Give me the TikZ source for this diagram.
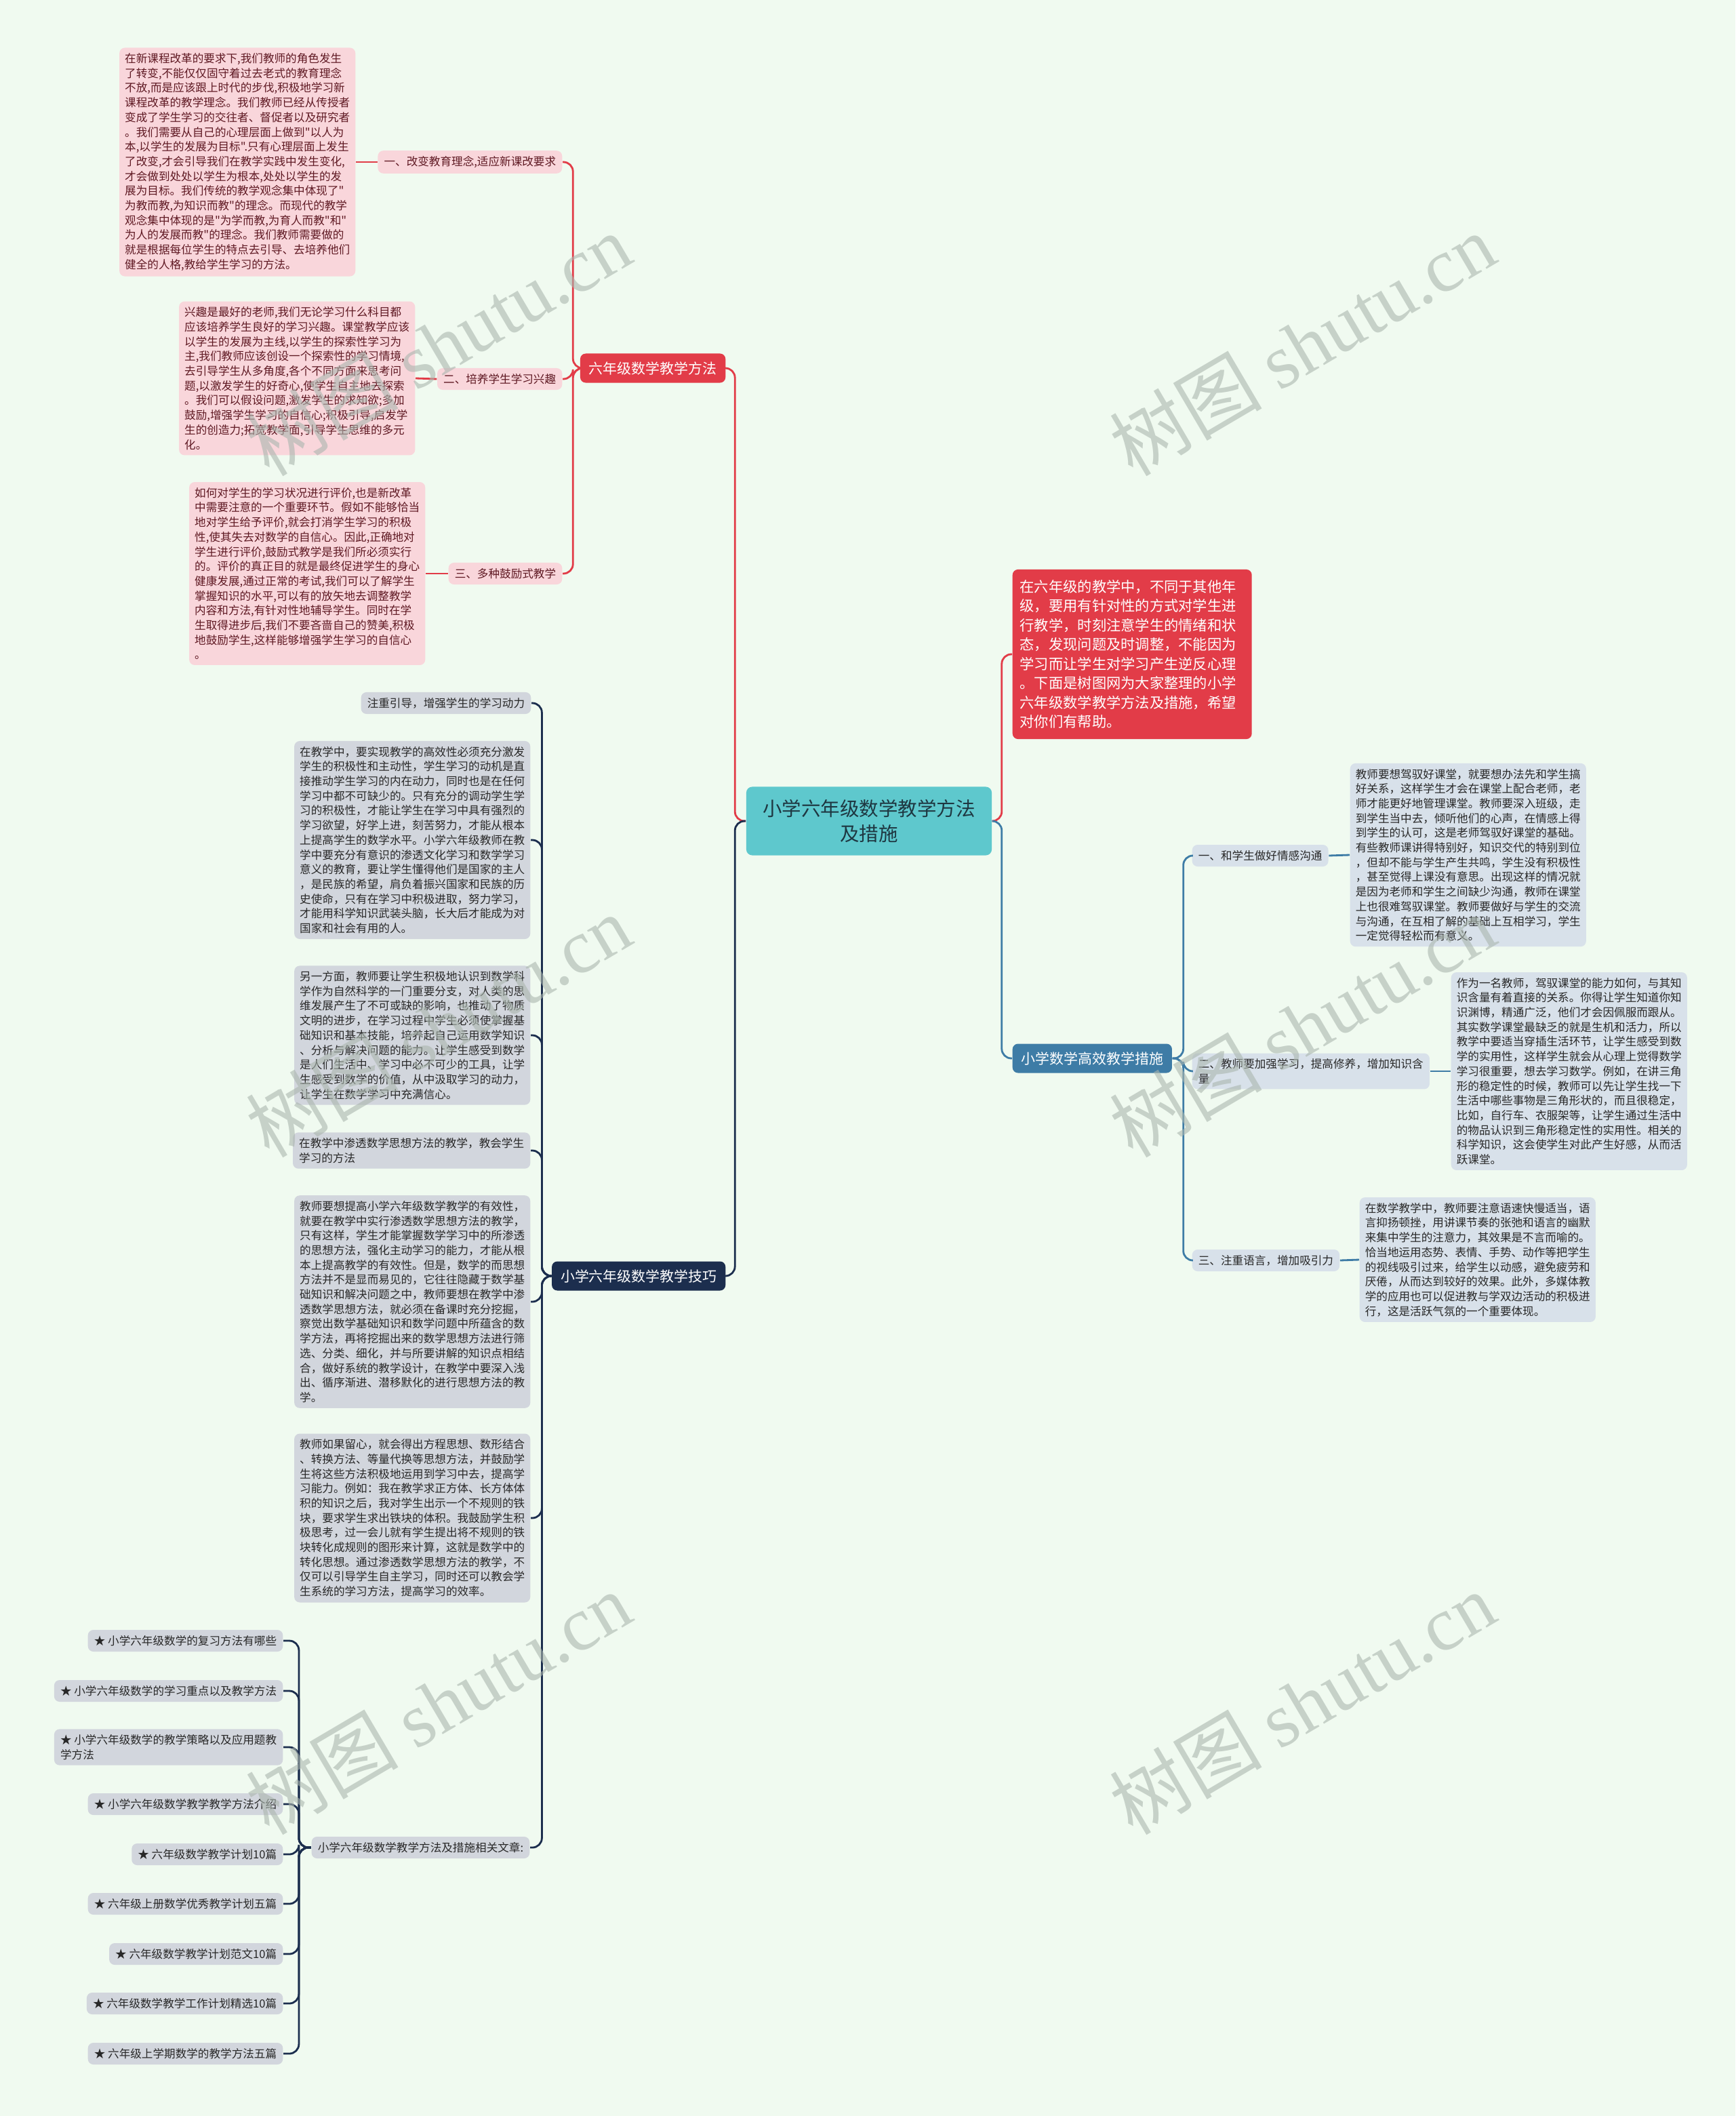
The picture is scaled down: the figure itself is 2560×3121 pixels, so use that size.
\documentclass[tikz,border=0pt]{standalone}
\usepackage{fontspec}
\setmainfont{Noto Sans CJK SC}[Ligatures=TeXOff]
\newfontfamily\wmlatin{Liberation Serif}
\usetikzlibrary{positioning}
\definecolor{bgmint}{RGB}{240,250,240}
\definecolor{mapred}{RGB}{226,60,72}
\definecolor{mappink}{RGB}{249,214,219}
\definecolor{pinktext}{RGB}{95,25,35}
\definecolor{mapteal}{RGB}{94,200,205}
\definecolor{roottext}{RGB}{30,55,65}
\definecolor{mapblue}{RGB}{62,124,166}
\definecolor{bluegrey}{RGB}{216,225,234}
\definecolor{mapnavy}{RGB}{28,46,78}
\definecolor{navygrey}{RGB}{210,214,221}
\definecolor{darktext}{RGB}{40,40,40}
\definecolor{wmgrey}{RGB}{170,182,174}
\newcommand{\txtsmall}{\fontsize{4.72}{6.17}\selectfont}
\newcommand{\txtmid}{\fontsize{5.95}{7.4}\selectfont}
\newcommand{\txtintro}{\fontsize{6.05}{8.1}\selectfont}
\newcommand{\txtbig}{\fontsize{8.1}{10.6}\selectfont}

\begin{document}
\begin{tikzpicture}[x=0.01cm, y=-0.01cm,
    block/.style={rectangle, rounded corners=2.3pt, align=left, font=\txtsmall,
      inner xsep=2.3pt, inner ysep=2.3pt},
    pinkblock/.style={block, fill=mappink, text=pinktext},
    blueblock/.style={block, fill=bluegrey, text=darktext},
    greyblock/.style={block, fill=navygrey, text=darktext},
    tag/.style={block, minimum height=0.32cm, inner xsep=2.6pt},
    pinktag/.style={tag, fill=mappink, text=pinktext},
    bluetag/.style={tag, fill=bluegrey, text=darktext},
    greytag/.style={tag, fill=navygrey, text=darktext},
    branch/.style={rectangle, rounded corners=2.3pt, font=\txtmid, text=white,
      inner xsep=3.7pt, minimum height=0.43cm},
    link/.style={line width=0.8pt, rounded corners=4pt},
    wmark/.style={text=wmgrey, opacity=0.6, rotate=30.5,
      font=\fontsize{32}{32}\selectfont}]
  \fill[bgmint] (0,0) rectangle (2560,3121);
  \useasboundingbox (0,0) rectangle (2560,3121);

  % centre and main branches
  \node[rectangle, rounded corners=2.5pt, fill=mapteal, text=roottext, font=\txtbig,
    align=center, minimum width=3.62cm, minimum height=1.01cm] (root) at (1282,1211)
    {小学六年级数学教学方法\\及措施};
  \node[block, fill=mapred, text=white, font=\txtintro, text width=3.31cm,
    inner xsep=3.1pt, inner ysep=4.4pt, anchor=west] (intro) at (1493,965)
    {在六年级的教学中，不同于其他年\\
     级，要用有针对性的方式对学生进\\
     行教学，时刻注意学生的情绪和状\\
     态，发现问题及时调整，不能因为\\
     学习而让学生对学习产生逆反心理\\
     。下面是树图网为大家整理的小学\\
     六年级数学教学方法及措施，希望\\
     对你们有帮助。};
  \node[branch, fill=mapred, anchor=east] (b1) at (1071,543) {六年级数学教学方法};
  \node[branch, fill=mapnavy, anchor=east] (b2) at (1071,1882) {小学六年级数学教学技巧};
  \node[branch, fill=mapblue, anchor=west] (b3) at (1493,1561) {小学数学高效教学措施};

  % 六年级数学教学方法
  \node[pinktag, anchor=east] (a1) at (830,239) {一、改变教育理念,适应新课改要求};
  \node[pinktag, anchor=east] (a2) at (830,559) {二、培养学生学习兴趣};
  \node[pinktag, anchor=east] (a3) at (830,846) {三、多种鼓励式教学};
  \node[pinkblock, anchor=east] (at1) at (525,239)
    {在新课程改革的要求下,我们教师的角色发生\\
     了转变,不能仅仅固守着过去老式的教育理念\\
     不放,而是应该跟上时代的步伐,积极地学习新\\
     课程改革的教学理念。我们教师已经从传授者\\
     变成了学生学习的交往者、督促者以及研究者\\
     。我们需要从自己的心理层面上做到"以人为\\
     本,以学生的发展为目标".只有心理层面上发生\\
     了改变,才会引导我们在教学实践中发生变化,\\
     才会做到处处以学生为根本,处处以学生的发\\
     展为目标。我们传统的教学观念集中体现了"\\
     为教而教,为知识而教"的理念。而现代的教学\\
     观念集中体现的是"为学而教,为育人而教"和"\\
     为人的发展而教"的理念。我们教师需要做的\\
     就是根据每位学生的特点去引导、去培养他们\\
     健全的人格,教给学生学习的方法。};
  \node[pinkblock, anchor=east] (at2) at (613,558)
    {兴趣是最好的老师,我们无论学习什么科目都\\
     应该培养学生良好的学习兴趣。课堂教学应该\\
     以学生的发展为主线,以学生的探索性学习为\\
     主,我们教师应该创设一个探索性的学习情境,\\
     去引导学生从多角度,各个不同方面来思考问\\
     题,以激发学生的好奇心,使学生自主地去探索\\
     。我们可以假设问题,激发学生的求知欲;多加\\
     鼓励,增强学生学习的自信心;积极引导,启发学\\
     生的创造力;拓宽教学面,引导学生思维的多元\\
     化。};
  \node[pinkblock, anchor=east] (at3) at (628,846)
    {如何对学生的学习状况进行评价,也是新改革\\
     中需要注意的一个重要环节。假如不能够恰当\\
     地对学生给予评价,就会打消学生学习的积极\\
     性,使其失去对数学的自信心。因此,正确地对\\
     学生进行评价,鼓励式教学是我们所必须实行\\
     的。评价的真正目的就是最终促进学生的身心\\
     健康发展,通过正常的考试,我们可以了解学生\\
     掌握知识的水平,可以有的放矢地去调整教学\\
     内容和方法,有针对性地辅导学生。同时在学\\
     生取得进步后,我们不要吝啬自己的赞美,积极\\
     地鼓励学生,这样能够增强学生学习的自信心\\
     。};

  % 小学数学高效教学措施
  \node[bluetag, anchor=west] (c1) at (1758,1262) {一、和学生做好情感沟通};
  \node[bluetag, anchor=west] (c2) at (1758,1580)
    {二、教师要加强学习，提高修养，增加知识含\\量};
  \node[bluetag, anchor=west] (c3) at (1758,1859) {三、注重语言，增加吸引力};
  \node[blueblock, anchor=west] (ct1) at (1991,1261)
    {教师要想驾驭好课堂，就要想办法先和学生搞\\
     好关系，这样学生才会在课堂上配合老师，老\\
     师才能更好地管理课堂。教师要深入班级，走\\
     到学生当中去，倾听他们的心声，在情感上得\\
     到学生的认可，这是老师驾驭好课堂的基础。\\
     有些教师课讲得特别好，知识交代的特别到位\\
     ，但却不能与学生产生共鸣，学生没有积极性\\
     ，甚至觉得上课没有意思。出现这样的情况就\\
     是因为老师和学生之间缺少沟通，教师在课堂\\
     上也很难驾驭课堂。教师要做好与学生的交流\\
     与沟通，在互相了解的基础上互相学习，学生\\
     一定觉得轻松而有意义。};
  \node[blueblock, anchor=west] (ct2) at (2140,1580)
    {作为一名教师，驾驭课堂的能力如何，与其知\\
     识含量有着直接的关系。你得让学生知道你知\\
     识渊博，精通广泛，他们才会因佩服而跟从。\\
     其实数学课堂最缺乏的就是生机和活力，所以\\
     教学中要适当穿插生活环节，让学生感受到数\\
     学的实用性，这样学生就会从心理上觉得数学\\
     学习很重要，想去学习数学。例如，在讲三角\\
     形的稳定性的时候，教师可以先让学生找一下\\
     生活中哪些事物是三角形状的，而且很稳定，\\
     比如，自行车、衣服架等，让学生通过生活中\\
     的物品认识到三角形稳定性的实用性。相关的\\
     科学知识，这会使学生对此产生好感，从而活\\
     跃课堂。};
  \node[blueblock, anchor=west] (ct3) at (2005,1858)
    {在数学教学中，教师要注意语速快慢适当，语\\
     言抑扬顿挫，用讲课节奏的张弛和语言的幽默\\
     来集中学生的注意力，其效果是不言而喻的。\\
     恰当地运用态势、表情、手势、动作等把学生\\
     的视线吸引过来，给学生以动感，避免疲劳和\\
     厌倦，从而达到较好的效果。此外，多媒体教\\
     学的应用也可以促进教与学双边活动的积极进\\
     行，这是活跃气氛的一个重要体现。};

  % 小学六年级数学教学技巧
  \node[greytag, anchor=east] (d1) at (784,1037) {注重引导，增强学生的学习动力};
  \node[greyblock, anchor=east] (d2) at (783,1239)
    {在教学中，要实现教学的高效性必须充分激发\\
     学生的积极性和主动性，学生学习的动机是直\\
     接推动学生学习的内在动力，同时也是在任何\\
     学习中都不可缺少的。只有充分的调动学生学\\
     习的积极性，才能让学生在学习中具有强烈的\\
     学习欲望，好学上进，刻苦努力，才能从根本\\
     上提高学生的数学水平。小学六年级教师在教\\
     学中要充分有意识的渗透文化学习和数学学习\\
     意义的教育，要让学生懂得他们是国家的主人\\
     ，是民族的希望，肩负着振兴国家和民族的历\\
     史使命，只有在学习中积极进取，努力学习，\\
     才能用科学知识武装头脑，长大后才能成为对\\
     国家和社会有用的人。};
  \node[greyblock, anchor=east] (d3) at (783,1527)
    {另一方面，教师要让学生积极地认识到数学科\\
     学作为自然科学的一门重要分支，对人类的思\\
     维发展产生了不可或缺的影响，也推动了物质\\
     文明的进步，在学习过程中学生必须使掌握基\\
     础知识和基本技能，培养起自己运用数学知识\\
     、分析与解决问题的能力。让学生感受到数学\\
     是人们生活中、学习中必不可少的工具，让学\\
     生感受到数学的价值，从中汲取学习的动力，\\
     让学生在数学学习中充满信心。};
  \node[greytag, anchor=east] (d4) at (783,1697)
    {在教学中渗透数学思想方法的教学，教会学生\\学习的方法};
  \node[greyblock, anchor=east] (d5) at (783,1920)
    {教师要想提高小学六年级数学教学的有效性，\\
     就要在教学中实行渗透数学思想方法的教学，\\
     只有这样，学生才能掌握数学学习中的所渗透\\
     的思想方法，强化主动学习的能力，才能从根\\
     本上提高教学的有效性。但是，数学的而思想\\
     方法并不是显而易见的，它往往隐藏于数学基\\
     础知识和解决问题之中，教师要想在教学中渗\\
     透数学思想方法，就必须在备课时充分挖掘，\\
     察觉出数学基础知识和数学问题中所蕴含的数\\
     学方法，再将挖掘出来的数学思想方法进行筛\\
     选、分类、细化，并与所要讲解的知识点相结\\
     合，做好系统的教学设计，在教学中要深入浅\\
     出、循序渐进、潜移默化的进行思想方法的教\\
     学。};
  \node[greyblock, anchor=east] (d6) at (783,2239)
    {教师如果留心，就会得出方程思想、数形结合\\
     、转换方法、等量代换等思想方法，并鼓励学\\
     生将这些方法积极地运用到学习中去，提高学\\
     习能力。例如：我在教学求正方体、长方体体\\
     积的知识之后，我对学生出示一个不规则的铁\\
     块，要求学生求出铁块的体积。我鼓励学生积\\
     极思考，过一会儿就有学生提出将不规则的铁\\
     块转化成规则的图形来计算，这就是数学中的\\
     转化思想。通过渗透数学思想方法的教学，不\\
     仅可以引导学生自主学习，同时还可以教会学\\
     生系统的学习方法，提高学习的效率。};
  \node[greytag, anchor=east] (d7) at (782,2725) {小学六年级数学教学方法及措施相关文章:};

  % related articles
  \node[greytag, anchor=east] (e1) at (418,2420) {★ 小学六年级数学的复习方法有哪些};
  \node[greytag, anchor=east] (e2) at (418,2494) {★ 小学六年级数学的学习重点以及教学方法};
  \node[greytag, anchor=east] (e3) at (418,2577)
    {★ 小学六年级数学的教学策略以及应用题教\\学方法};
  \node[greytag, anchor=east] (e4) at (418,2661) {★ 小学六年级数学教学教学方法介绍};
  \node[greytag, anchor=east] (e5) at (418,2735) {★ 六年级数学教学计划10篇};
  \node[greytag, anchor=east] (e6) at (418,2808) {★ 六年级上册数学优秀教学计划五篇};
  \node[greytag, anchor=east] (e7) at (418,2882) {★ 六年级数学教学计划范文10篇};
  \node[greytag, anchor=east] (e8) at (418,2955) {★ 六年级数学教学工作计划精选10篇};
  \node[greytag, anchor=east] (e9) at (418,3029) {★ 六年级上学期数学的教学方法五篇};

  % connectors
  \draw[link, mapred] (root.west) -- ++(-16,0) |- (b1.east);
  \draw[link, mapnavy] (root.west) -- ++(-16,0) |- (b2.east);
  \draw[link, mapred] (root.east) -- ++(14,0) |- (intro.west);
  \draw[link, mapblue] (root.east) -- ++(14,0) |- (b3.west);
  \draw[link, mapred] (b1.west) -- ++(-10,0) |- (a1.east);
  \draw[link, mapred] (b1.west) -- ++(-10,0) |- (a2.east);
  \draw[link, mapred] (b1.west) -- ++(-10,0) |- (a3.east);
  \draw[link, mapred] (a1.west) -- (at1.east);
  \draw[link, mapred] (a2.west) -- (at2.east);
  \draw[link, mapred] (a3.west) -- (at3.east);
  \draw[link, mapblue] (b3.east) -- ++(16,0) |- (c1.west);
  \draw[link, mapblue] (b3.east) -- ++(16,0) |- (c2.west);
  \draw[link, mapblue] (b3.east) -- ++(16,0) |- (c3.west);
  \draw[link, mapblue] (c1.east) -- (ct1.west);
  \draw[link, mapblue] (c2.east) -- (ct2.west);
  \draw[link, mapblue] (c3.east) -- (ct3.west);
  \draw[link, mapnavy] (b2.west) -- ++(-14,0) |- (d1.east);
  \draw[link, mapnavy] (b2.west) -- ++(-14,0) |- (d2.east);
  \draw[link, mapnavy] (b2.west) -- ++(-14,0) |- (d3.east);
  \draw[link, mapnavy] (b2.west) -- ++(-14,0) |- (d4.east);
  \draw[link, mapnavy] (b2.west) -- ++(-14,0) |- (d5.east);
  \draw[link, mapnavy] (b2.west) -- ++(-14,0) |- (d6.east);
  \draw[link, mapnavy] (b2.west) -- ++(-14,0) |- (d7.east);
  \draw[link, mapnavy] (d7.west) -- ++(-18,0) |- (e1.east);
  \draw[link, mapnavy] (d7.west) -- ++(-18,0) |- (e2.east);
  \draw[link, mapnavy] (d7.west) -- ++(-18,0) |- (e3.east);
  \draw[link, mapnavy] (d7.west) -- ++(-18,0) |- (e4.east);
  \draw[link, mapnavy] (d7.west) -- ++(-18,0) |- (e5.east);
  \draw[link, mapnavy] (d7.west) -- ++(-18,0) |- (e6.east);
  \draw[link, mapnavy] (d7.west) -- ++(-18,0) |- (e7.east);
  \draw[link, mapnavy] (d7.west) -- ++(-18,0) |- (e8.east);
  \draw[link, mapnavy] (d7.west) -- ++(-18,0) |- (e9.east);

  % watermarks
  \node[wmark] (w1) at (647,508) {树图 {\wmlatin shutu.cn}};
  \node[wmark] (w2) at (1921,508) {树图 {\wmlatin shutu.cn}};
  \node[wmark] (w3) at (647,1513) {树图 {\wmlatin shutu.cn}};
  \node[wmark] (w4) at (1921,1513) {树图 {\wmlatin shutu.cn}};
  \node[wmark] (w5) at (647,2512) {树图 {\wmlatin shutu.cn}};
  \node[wmark] (w6) at (1921,2512) {树图 {\wmlatin shutu.cn}};
\end{tikzpicture}
\end{document}
